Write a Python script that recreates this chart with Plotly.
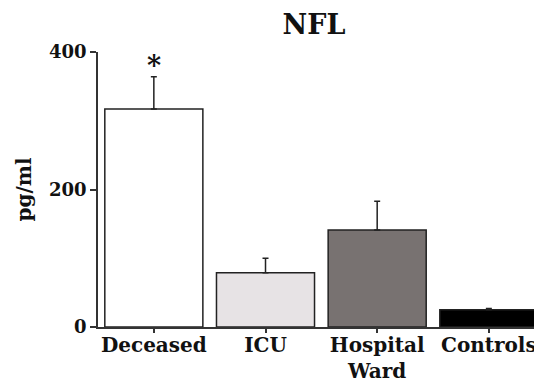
import plotly.graph_objects as go

categories = ["Deceased", "ICU", "Hospital<br>Ward", "Controls"]
values = [317, 79, 141, 25]
err_plus = [47, 21, 42, 2]
bar_colors = ["#ffffff", "#e7e3e5", "#787271", "#000000"]
y_ticks = [0, 200, 400]

FONT = "DejaVu Serif"
W, H = 534, 375  # page body has an 8px margin

fig = go.Figure()
fig.add_trace(go.Bar(
    x=list(range(len(categories))),
    y=values,
    width=0.878,
    marker=dict(color=bar_colors, line=dict(color="#222222", width=1.5)),
    error_y=dict(type="data", symmetric=False, array=err_plus,
                 arrayminus=[0] * len(values),
                 color="#222222", thickness=1.5, width=3),
    showlegend=False,
))

fig.add_annotation(x=0, y=380, text="<b>*</b>", showarrow=False,
                   font=dict(family=FONT, size=27, color="#111111"),
                   xref="x", yref="y")

fig.update_layout(
    width=W, height=H,
    margin=dict(l=90, r=0, t=44, b=56),
    paper_bgcolor="white", plot_bgcolor="white",
    title=dict(text="<b>NFL</b>", x=306 / W, xanchor="center",
               y=1 - 17 / H, yanchor="middle",
               font=dict(family=FONT, size=27, color="#111111")),
    font=dict(family=FONT, color="#111111"),
)
fig.update_xaxes(
    range=[-0.5, 3.476], automargin=False,
    tickmode="array", tickvals=list(range(len(categories))), ticktext=[f"<b>{c}</b>" for c in categories],
    tickfont=dict(family=FONT, size=20, color="#111111"),
    ticklabelstandoff=-5,
    showline=True, linecolor="#333333", linewidth=1.5,
    ticks="outside", ticklen=4, tickcolor="#333333", tickwidth=1.5,
    showgrid=False, zeroline=False,
)
fig.update_yaxes(
    range=[0, 400], automargin=False,
    tickmode="array", tickvals=y_ticks, ticktext=[f"<b>{t}</b>" for t in y_ticks],
    tickfont=dict(family=FONT, size=18, color="#111111"),
    showline=True, linecolor="#333333", linewidth=1.5,
    ticks="outside", ticklen=6, tickcolor="#333333", tickwidth=1.5,
    showgrid=False, zeroline=False,
    title=dict(text="<b>pg/ml</b>", font=dict(family=FONT, size=20, color="#111111"), standoff=12),
)

fig.write_html("out.html")
